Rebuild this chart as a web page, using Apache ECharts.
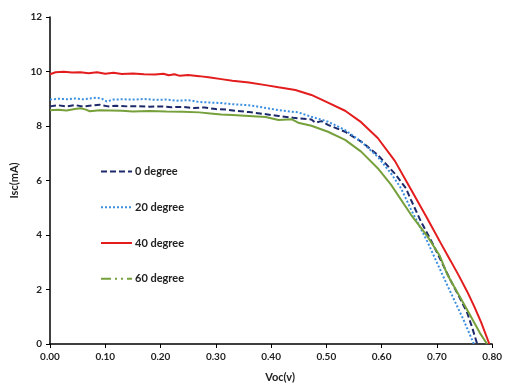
<!DOCTYPE html>
<html>
<head>
<meta charset="utf-8">
<script src="https://cdn.jsdelivr.net/npm/echarts@6/dist/echarts.min.js"></script>
<style>
  html, body { margin: 0; padding: 0; background: #fff; }
  #chart { width: 505px; height: 389px; }
</style>
</head>
<body>
<div id="chart"></div>
<script>
// Voc (V) / Isc (mA) pairs
const deg0 = [
  [0, 8.72], [0.015, 8.76], [0.03, 8.72], [0.045, 8.77], [0.06, 8.71], [0.075, 8.75], [0.09, 8.78],
  [0.105, 8.72], [0.12, 8.74], [0.14, 8.72], [0.16, 8.73], [0.18, 8.71], [0.2, 8.72], [0.22, 8.69],
  [0.24, 8.7], [0.26, 8.66], [0.28, 8.68], [0.3, 8.62], [0.32, 8.6], [0.34, 8.55], [0.36, 8.51],
  [0.38, 8.46], [0.4135, 8.37], [0.44, 8.3], [0.473, 8.24], [0.48, 8.12], [0.491, 8.18], [0.503, 8.04],
  [0.534, 7.79], [0.563, 7.43], [0.593, 6.94], [0.624, 6.25], [0.644, 5.72], [0.653, 5.3], [0.671, 4.5],
  [0.689, 3.82], [0.7065, 3.1], [0.7245, 2.35], [0.74, 1.75], [0.755, 1.14], [0.764, 0.6], [0.773, 0]
];
const deg20 = [
  [0, 8.97], [0.015, 9.0], [0.03, 8.98], [0.045, 9.01], [0.06, 8.98], [0.075, 9.02], [0.085, 9.04],
  [0.095, 8.99], [0.1025, 8.9], [0.115, 8.97], [0.13, 8.98], [0.15, 8.97], [0.17, 8.99], [0.19, 8.96],
  [0.21, 8.97], [0.23, 8.93], [0.25, 8.95], [0.27, 8.88], [0.29, 8.86], [0.31, 8.84], [0.33, 8.8],
  [0.36, 8.76], [0.38, 8.7], [0.4135, 8.58], [0.449, 8.5], [0.473, 8.34], [0.503, 8.16], [0.534, 7.85],
  [0.563, 7.43], [0.593, 6.87], [0.617, 6.26], [0.635, 5.72], [0.653, 4.95], [0.683, 3.75],
  [0.719, 2.15], [0.748, 0.9], [0.767, 0]
];
const deg40 = [
  [0, 9.9], [0.01, 9.97], [0.025, 9.99], [0.04, 9.96], [0.055, 9.97], [0.07, 9.94], [0.085, 9.97],
  [0.1, 9.92], [0.115, 9.95], [0.13, 9.91], [0.15, 9.93], [0.17, 9.9], [0.19, 9.89], [0.205, 9.92],
  [0.215, 9.86], [0.225, 9.9], [0.235, 9.84], [0.25, 9.87], [0.27, 9.83], [0.29, 9.78], [0.31, 9.72],
  [0.33, 9.66], [0.36, 9.6], [0.39, 9.5], [0.4135, 9.42], [0.444, 9.32], [0.473, 9.14], [0.503, 8.86],
  [0.534, 8.56], [0.563, 8.14], [0.593, 7.56], [0.624, 6.72], [0.653, 5.68], [0.683, 4.6],
  [0.7065, 3.72], [0.725, 3.05], [0.74, 2.5], [0.755, 1.92], [0.768, 1.36],
  [0.78, 0.8], [0.795, 0]
];
const deg60 = [
  [0, 8.58], [0.015, 8.6], [0.03, 8.57], [0.045, 8.62], [0.055, 8.65], [0.065, 8.6], [0.072, 8.54],
  [0.09, 8.58], [0.11, 8.57], [0.13, 8.56], [0.15, 8.53], [0.18, 8.55], [0.21, 8.53], [0.24, 8.52],
  [0.27, 8.5], [0.29, 8.46], [0.31, 8.42], [0.33, 8.4], [0.36, 8.37], [0.39, 8.33], [0.4135, 8.22],
  [0.437, 8.25], [0.449, 8.12], [0.473, 8.01], [0.503, 7.79], [0.534, 7.49], [0.563, 7.06],
  [0.593, 6.45], [0.617, 5.85], [0.653, 4.75], [0.683, 3.95], [0.705, 3.25], [0.719, 2.55],
  [0.755, 1.25], [0.778, 0.4], [0.791, 0]
];
const seriesNames = ['0 degree', '20 degree', '40 degree', '60 degree'];

const font = 'Lato, "Open Sans", sans-serif';
const chart = echarts.init(document.getElementById('chart'), null, { renderer: 'canvas' });

const line = (name, data, color, type) => ({
  name: name,
  type: 'line',
  data: data,
  symbol: 'none',
  smooth: false,
  animation: false,
  itemStyle: { color: color },
  lineStyle: { color: color, width: 2, type: type }
});

chart.setOption({
  backgroundColor: '#fff',
  animation: false,
  grid: { left: 50, right: 10, top: 17, bottom: 45 },
  legend: {
    orient: 'vertical',
    left: 95,
    top: 161,
    itemWidth: 31,
    itemHeight: 14,
    itemGap: 24.5,
    itemStyle: { opacity: 0 },
    textStyle: { fontFamily: font, fontWeight: 'bold', fontSize: 11, color: '#222', padding: [0, 0, 0, -2] },
    data: [
      { name: seriesNames[0] },
      { name: seriesNames[1] },
      { name: seriesNames[2] },
      { name: seriesNames[3], lineStyle: { type: [10, 4, 2, 4, 2, 4] } }
    ]
  },
  xAxis: {
    type: 'value',
    min: 0,
    max: 0.8,
    interval: 0.1,
    name: 'Voc(v)',
    nameLocation: 'middle',
    nameGap: 28,
    nameTextStyle: { fontFamily: font, fontWeight: 'bold', fontSize: 11, color: '#222', padding: [0, 0, 0, 18] },
    axisLine: { lineStyle: { color: '#000', width: 1.5 } },
    axisTick: { show: true, inside: false, length: 4, lineStyle: { color: '#000' } },
    axisLabel: {
      fontFamily: font, fontWeight: 'bold', fontSize: 10, color: '#222', margin: 8,
      formatter: v => v.toFixed(2)
    },
    splitLine: { show: false }
  },
  yAxis: {
    type: 'value',
    min: 0,
    max: 12,
    interval: 2,
    name: 'Isc(mA)',
    nameLocation: 'middle',
    nameGap: 28,
    nameRotate: 90,
    nameTextStyle: { fontFamily: font, fontWeight: 'bold', fontSize: 11, color: '#222' },
    axisLine: { show: true, lineStyle: { color: '#000', width: 1.5 } },
    axisTick: { show: true, inside: false, length: 4, lineStyle: { color: '#000' } },
    axisLabel: { fontFamily: font, fontWeight: 'bold', fontSize: 10, color: '#222', margin: 8 },
    splitLine: { show: false }
  },
  series: [
    line(seriesNames[0], deg0, '#1c2a6b', [6, 3]),
    line(seriesNames[1], deg20, '#3b8fe0', [2, 2]),
    line(seriesNames[2], deg40, '#e31d1d', 'solid'),
    line(seriesNames[3], deg60, '#76a03b', 'solid')
  ]
});
</script>
</body>
</html>
